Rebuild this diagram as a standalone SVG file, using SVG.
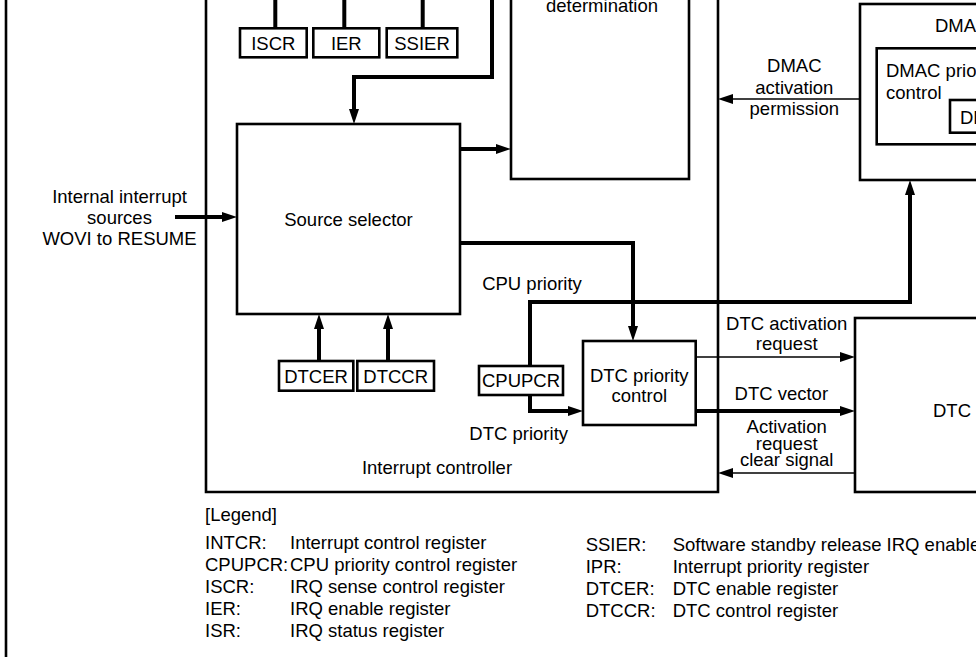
<svg xmlns="http://www.w3.org/2000/svg" width="976" height="657" viewBox="0 0 976 657">
  <style>
    text { font-family: "Liberation Sans", Arial, Helvetica, sans-serif; font-size: 18.5px; fill: #000; }
    .c { text-anchor: middle; }
    .box { fill: #fff; stroke: #000; stroke-width: 2.6; }
    .frame { fill: none; stroke: #000; stroke-width: 2.6; }
    .thick { fill: none; stroke: #000; stroke-width: 4; stroke-linejoin: miter; }
    .thin { fill: none; stroke: #000; stroke-width: 1.4; }
  </style>
  <defs>
    <marker id="arrow" markerUnits="userSpaceOnUse" viewBox="0 -5 15 10" refX="0" refY="0" markerWidth="15" markerHeight="10" orient="auto">
      <path d="M0,-5 L15,0 L0,5 z" fill="#000"/>
    </marker>
  </defs>

  <rect width="976" height="657" fill="#fff"/>

  <!-- page border on the left -->
  <line x1="6" y1="-5" x2="6" y2="662" class="frame"/>

  <!-- interrupt controller enclosure -->
  <g id="interrupt-controller">
    <path d="M206,-10 V492 H718 V-10" class="frame"/>
    <text x="437" y="474" class="c">Interrupt controller</text>
  </g>

  <g id="priority-determination">
    <rect x="511" y="-10" width="178" height="189" class="box"/>
    <text x="602" y="12" class="c">determination</text>
  </g>

  <g id="iscr">
    <rect x="240" y="28.3" width="66.7" height="29" class="box"/>
    <text x="273.3" y="49.5" class="c">ISCR</text>
  </g>
  <g id="ier">
    <rect x="313.3" y="28.3" width="66" height="29" class="box"/>
    <text x="346.3" y="49.5" class="c">IER</text>
  </g>
  <g id="ssier">
    <rect x="386.7" y="28.3" width="70.6" height="29" class="box"/>
    <text x="422" y="49.5" class="c">SSIER</text>
  </g>

  <g id="source-selector">
    <rect x="237" y="124" width="223" height="190" class="box"/>
    <text x="348.5" y="226" class="c">Source selector</text>
  </g>

  <g id="dtcer">
    <rect x="279" y="361" width="74.3" height="29.7" class="box"/>
    <text x="316" y="382.7" class="c">DTCER</text>
  </g>
  <g id="dtccr">
    <rect x="357.3" y="361" width="76.7" height="29.7" class="box"/>
    <text x="395.7" y="382.7" class="c">DTCCR</text>
  </g>

  <g id="cpupcr">
    <rect x="479" y="366" width="84" height="29" class="box"/>
    <text x="521" y="387" class="c">CPUPCR</text>
  </g>

  <g id="dtc-priority-control">
    <rect x="583" y="341" width="112.7" height="84" class="box"/>
    <text x="639.3" y="381.5" class="c">DTC priority</text>
    <text x="639.3" y="401.5" class="c">control</text>
  </g>

  <g id="dtc">
    <rect x="855" y="318" width="200" height="174" class="box"/>
    <text x="933" y="416.7">DTC</text>
  </g>

  <g id="dmac">
    <rect x="860" y="4" width="200" height="176" class="box"/>
    <text x="935" y="31.5">DMAC</text>
    <rect x="876.7" y="48.3" width="200" height="96" class="box"/>
    <text x="886" y="77">DMAC priority</text>
    <text x="886" y="99">control</text>
    <rect x="950" y="100" width="100" height="32.7" class="box"/>
    <text x="960" y="124">DMDR</text>
  </g>

  <!-- signal and register paths -->
  <g id="connectors">
    <line x1="275.3" y1="-5" x2="275.3" y2="28.3" class="thick" stroke-width="3.5"/>
    <line x1="344.3" y1="-5" x2="344.3" y2="28.3" class="thick" stroke-width="3.5"/>
    <line x1="422.7" y1="-5" x2="422.7" y2="28.3" class="thick" stroke-width="3.5"/>
    <path d="M492,-5 V77 H354 V109" class="thick" marker-end="url(#arrow)"/>
    <path d="M460,149 H496" class="thick" marker-end="url(#arrow)"/>
    <path d="M175,217 H222" class="thick" marker-end="url(#arrow)"/>
    <path d="M460,243 H633 V326" class="thick" marker-end="url(#arrow)"/>
    <path d="M319,361 V329" class="thick" marker-end="url(#arrow)"/>
    <path d="M388,361 V329" class="thick" marker-end="url(#arrow)"/>
    <path d="M530,366 V302 H910 V195" class="thick" marker-end="url(#arrow)"/>
    <path d="M530,395 V411 H568" class="thick" marker-end="url(#arrow)"/>
    <path d="M695.7,357 H840" class="thin" marker-end="url(#arrow)"/>
    <path d="M695.7,411 H840" class="thick" marker-end="url(#arrow)"/>
    <path d="M855,473 H733" class="thin" marker-end="url(#arrow)"/>
    <path d="M860,99 H733" class="thin" marker-end="url(#arrow)"/>
  </g>

  <!-- signal labels -->
  <g id="labels">
    <text x="119.5" y="203" class="c">Internal interrupt</text>
    <text x="119.5" y="224" class="c">sources</text>
    <text x="119.5" y="245" class="c">WOVI to RESUME</text>
    <text x="532" y="290" class="c">CPU priority</text>
    <text x="518.7" y="440" class="c">DTC priority</text>
    <text x="794.3" y="71.5" class="c">DMAC</text>
    <text x="794.3" y="94" class="c">activation</text>
    <text x="794.3" y="115" class="c">permission</text>
    <text x="786.7" y="330" class="c">DTC activation</text>
    <text x="786.7" y="350" class="c">request</text>
    <text x="781.3" y="400" class="c">DTC vector</text>
    <text x="786.7" y="433.3" class="c">Activation</text>
    <text x="786.7" y="449.5" class="c">request</text>
    <text x="786.7" y="466" class="c">clear signal</text>
  </g>

  <!-- register legend -->
  <g id="legend">
    <text x="205" y="521">[Legend]</text>
    <text x="205" y="549">INTCR:</text>
    <text x="290" y="549">Interrupt control register</text>
    <text x="205" y="571">CPUPCR:</text>
    <text x="290" y="571">CPU priority control register</text>
    <text x="205" y="593">ISCR:</text>
    <text x="290" y="593">IRQ sense control register</text>
    <text x="205" y="615">IER:</text>
    <text x="290" y="615">IRQ enable register</text>
    <text x="205" y="637">ISR:</text>
    <text x="290" y="637">IRQ status register</text>
    <text x="585.7" y="550.5">SSIER:</text>
    <text x="672.7" y="550.5">Software standby release IRQ enable register</text>
    <text x="585.7" y="572.5">IPR:</text>
    <text x="672.7" y="572.5">Interrupt priority register</text>
    <text x="585.7" y="594.5">DTCER:</text>
    <text x="672.7" y="594.5">DTC enable register</text>
    <text x="585.7" y="616.5">DTCCR:</text>
    <text x="672.7" y="616.5">DTC control register</text>
  </g>
</svg>
